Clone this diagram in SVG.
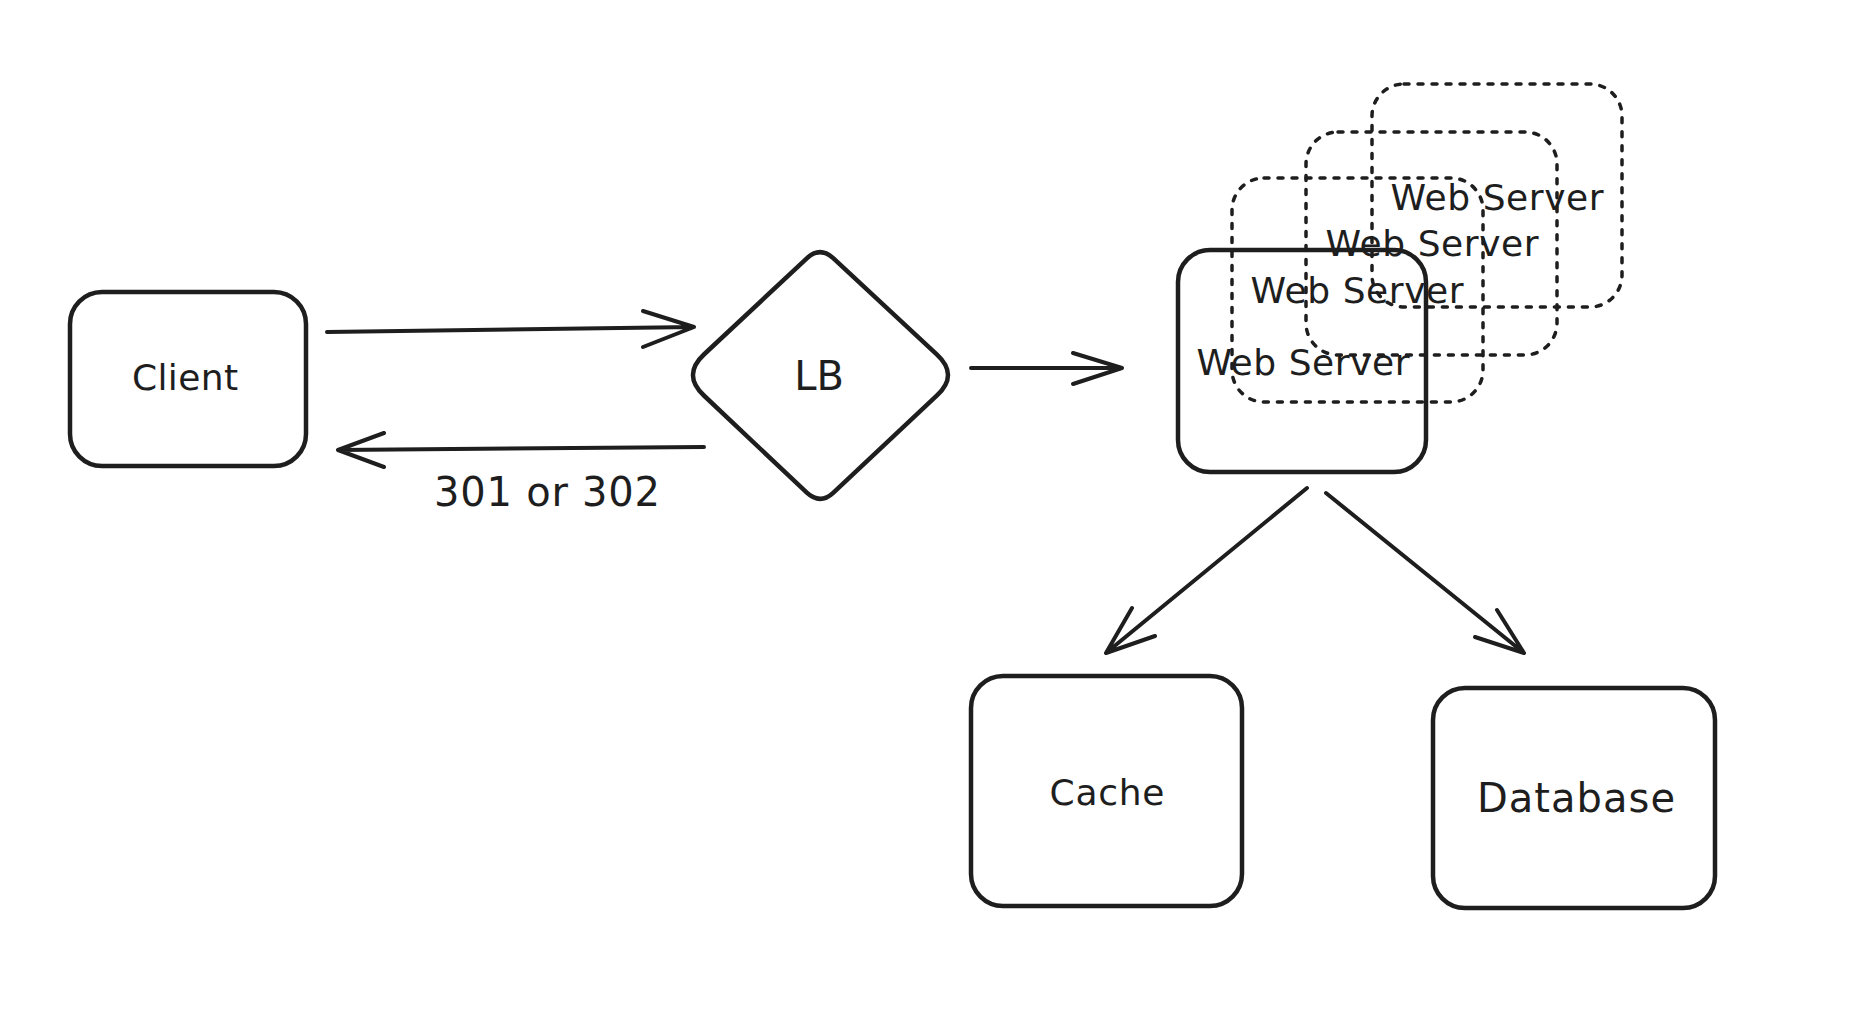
<svg xmlns="http://www.w3.org/2000/svg" width="1864" height="1034" viewBox="0 0 1864 1034">
<style>
.box{fill:none;stroke:#1e1e1e;stroke-width:4.5;stroke-linejoin:round}
.dot{fill:none;stroke:#1e1e1e;stroke-width:3.5;stroke-dasharray:5 9;stroke-linecap:round}
.edge{fill:none;stroke:#1e1e1e;stroke-width:4;stroke-linecap:round;stroke-linejoin:round}
.lbl{font-family:"DejaVu Sans",sans-serif;font-size:36px;fill:#1e1e1e;text-anchor:middle;dominant-baseline:central}
.big{font-size:40px}
</style>
<rect width="1864" height="1034" fill="#ffffff"/>
<g id="client">
<rect class="box" x="70" y="292" width="236" height="174" rx="32"/>
<text class="lbl" x="185" y="377" textLength="106" lengthAdjust="spacing">Client</text>
</g>
<g id="lb">
<path class="box" d="M806.8,258.3 Q820,246 833.2,258.2 L937,354.6 Q959,375 937,395.4 L833.2,492.8 Q820,505 806.8,492.7 L703.9,395.5 Q682,375 703.9,354.5 Z"/>
<text class="lbl big" x="819" y="376">LB</text>
</g>
<g id="webserver-3">
<rect class="dot" x="1372" y="84" width="250" height="223" rx="32"/>
<text class="lbl" x="1497" y="197" textLength="213" lengthAdjust="spacing">Web Server</text>
</g>
<g id="webserver-2">
<rect class="dot" x="1306" y="132" width="251" height="223" rx="32"/>
<text class="lbl" x="1432" y="243" textLength="213" lengthAdjust="spacing">Web Server</text>
</g>
<g id="webserver-1">
<rect class="dot" x="1232" y="178" width="251" height="224" rx="32"/>
<text class="lbl" x="1357" y="290" textLength="213" lengthAdjust="spacing">Web Server</text>
</g>
<g id="webserver">
<rect class="box" x="1178" y="250" width="248" height="222" rx="32"/>
<text class="lbl" x="1303" y="362" textLength="213" lengthAdjust="spacing">Web Server</text>
</g>
<g id="cache">
<rect class="box" x="971" y="676" width="271" height="230" rx="32"/>
<text class="lbl" x="1107" y="792" textLength="115" lengthAdjust="spacing">Cache</text>
</g>
<g id="database">
<rect class="box" x="1433" y="688" width="282" height="220" rx="32"/>
<text class="lbl big" x="1576" y="798" textLength="198" lengthAdjust="spacing">Database</text>
</g>
<g id="connectors">
<path class="edge" d="M327,332 L694,327 M643,311 L694,327 L643,347"/>
<path class="edge" d="M704,447 L338,450 M384,433 L338,450 L384,467"/>
<text class="lbl big" x="547" y="492" textLength="226" lengthAdjust="spacing">301 or 302</text>
<path class="edge" d="M971,368 L1122,368 M1073,353 L1122,368 L1073,384"/>
<path class="edge" d="M1307,488 L1106,653 M1132,608 L1106,653 L1155,636"/>
<path class="edge" d="M1326,493 L1524,653 M1497,610 L1524,653 L1475,637"/>
</g>
</svg>
